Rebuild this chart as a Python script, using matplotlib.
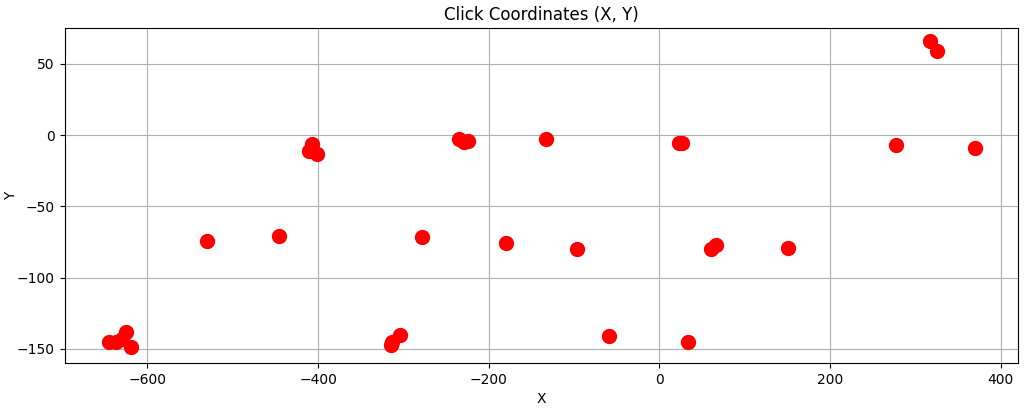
import matplotlib
matplotlib.use("Agg")
import matplotlib.pyplot as plt

x_vals = [-645, -637, -630, -625, -619,
          -411, -407, -401,
          -235, -229, -224,
          -133,
          -314, -313, -304,
          23, 27,
          61, 66,
          317, 325,
          -530, -446, -278, -179.5, -97, -59, 34, 151, 277, 369.5]
y_vals = [-145.5, -145, -143, -138, -149,
          -11, -6, -13,
          -3, -5, -4,
          -3,
          -147.5, -145.5, -140,
          -5.5, -5.5,
          -80, -77,
          66, 59,
          -74, -70.6, -71.3, -76, -80, -141, -145.5, -79, -7, -9]

fig, ax = plt.subplots(figsize=(10.24, 4.08), dpi=100)
ax.scatter(x_vals, y_vals, color="red", s=100, zorder=3)
ax.set_title("Click Coordinates (X, Y)")
ax.set_xlabel("X")
ax.set_ylabel("Y", labelpad=-1)
ax.grid(True)
ax.set_xlim(-697, 420)
ax.set_ylim(-160, 75)
fig.subplots_adjust(left=0.063, right=0.994, top=0.931, bottom=0.11)
fig.savefig("out.png", dpi=100)
